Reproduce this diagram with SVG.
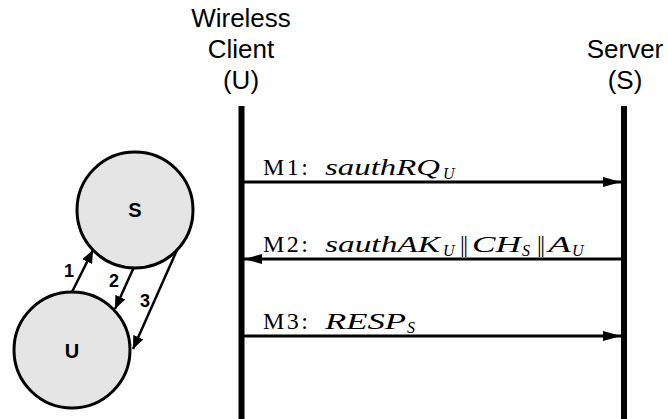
<svg xmlns="http://www.w3.org/2000/svg" width="668" height="419" viewBox="0 0 668 419">
<style>
.hdr{font-family:"Liberation Sans",Arial,sans-serif;font-size:26px;fill:#000;text-anchor:middle}
.lbl{font-family:"Liberation Sans",Arial,sans-serif;font-weight:bold;fill:#000;text-anchor:middle}
.node{fill:#e5e5e5;stroke:#000;stroke-width:3}
.life{stroke:#000;stroke-width:6}
.msg{stroke:#000;stroke-width:3;fill:none}
.sm{stroke:#000;stroke-width:2.5;fill:none}
.m{font-family:"Liberation Serif",serif;font-size:24px;fill:#000}
.it{font-style:italic}
.sub{font-size:16px;font-style:italic}
</style>
<defs>
<marker id="ah" markerWidth="18" markerHeight="10" refX="18" refY="5" orient="auto" markerUnits="userSpaceOnUse">
<path d="M0,0 L18,5 L0,10 Z" fill="#000"/>
</marker>
<marker id="sh" markerWidth="13" markerHeight="11" refX="13" refY="5.5" orient="auto" markerUnits="userSpaceOnUse">
<path d="M0,0 L13,5.5 L0,11 Z" fill="#000"/>
</marker>
</defs>
<g id="client-header">
<text class="hdr" x="241" y="27">Wireless</text>
<text class="hdr" x="241" y="58">Client</text>
<text class="hdr" x="241" y="89">(U)</text>
</g>
<g id="server-header">
<text class="hdr" x="625" y="58">Server</text>
<text class="hdr" x="625" y="89">(S)</text>
</g>
<g id="lifelines">
<line class="life" x1="241.5" y1="106" x2="241.5" y2="419"/>
<line class="life" x1="624" y1="106" x2="624" y2="419"/>
</g>
<g id="node-S">
<circle class="node" cx="135" cy="210" r="58"/>
<text class="lbl" x="135" y="216.5" font-size="20">S</text>
</g>
<g id="node-U">
<circle class="node" cx="72" cy="350" r="58"/>
<text class="lbl" x="72" y="358" font-size="20">U</text>
</g>
<g id="connectors">
<line class="sm" x1="72" y1="292" x2="93" y2="250" marker-end="url(#sh)"/>
<line class="sm" x1="134" y1="267" x2="115" y2="309" marker-end="url(#sh)"/>
<line class="sm" x1="177" y1="250" x2="133" y2="349" marker-end="url(#sh)"/>
<text class="lbl" x="69" y="277" font-size="18">1</text>
<text class="lbl" x="114" y="287" font-size="18">2</text>
<text class="lbl" x="145" y="307" font-size="18">3</text>
<line class="msg" x1="244" y1="182" x2="621" y2="182" marker-end="url(#ah)"/>
<line class="msg" x1="621" y1="259" x2="244" y2="259" marker-end="url(#ah)"/>
<line class="msg" x1="244" y1="336" x2="621" y2="336" marker-end="url(#ah)"/>
<text class="m"><tspan x="263" y="175" textLength="45" lengthAdjust="spacing">M1:</tspan><tspan class="it" x="325" y="175" textLength="115" lengthAdjust="spacingAndGlyphs">sauthRQ</tspan><tspan class="sub" x="443" y="179">U</tspan></text>
<text class="m"><tspan x="263" y="252" textLength="45" lengthAdjust="spacing">M2:</tspan><tspan class="it" x="325" y="252" textLength="115" lengthAdjust="spacingAndGlyphs">sauthAK</tspan><tspan class="sub" x="443" y="256">U</tspan><tspan x="460" y="252" textLength="8" lengthAdjust="spacing">||</tspan><tspan class="it" x="472" y="252" textLength="49" lengthAdjust="spacingAndGlyphs">CH</tspan><tspan class="sub" x="522" y="256">S</tspan><tspan x="537" y="252" textLength="8" lengthAdjust="spacing">||</tspan><tspan class="it" x="548" y="252" textLength="23" lengthAdjust="spacingAndGlyphs">A</tspan><tspan class="sub" x="572" y="256">U</tspan></text>
<text class="m"><tspan x="263" y="329" textLength="45" lengthAdjust="spacing">M3:</tspan><tspan class="it" x="325" y="329" textLength="81" lengthAdjust="spacingAndGlyphs">RESP</tspan><tspan class="sub" x="407" y="333">S</tspan></text>
</g>
</svg>
